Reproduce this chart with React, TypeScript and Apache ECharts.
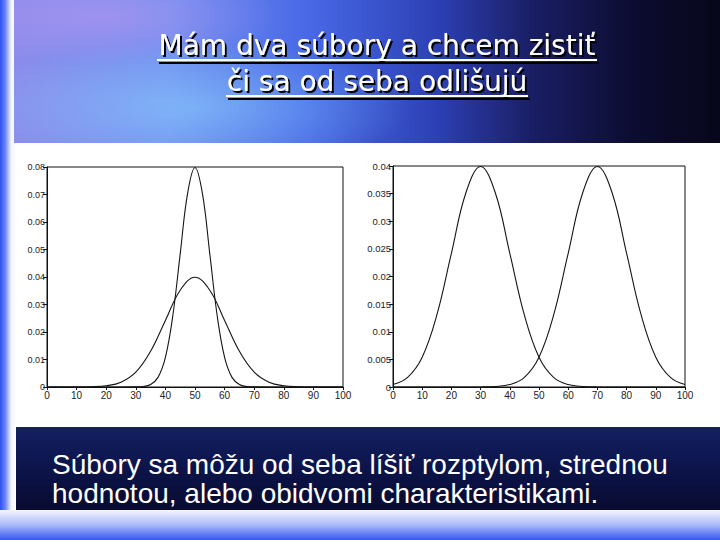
import React, { useEffect, useRef } from "react";
import * as echarts from "echarts";

const titleLines = ["Mám dva súbory a chcem zistiť", "či sa od seba odlišujú"];
const bottomLines = [
  "Súbory sa môžu od seba líšiť rozptylom, strednou",
  "hodnotou, alebo obidvomi charakteristikami.",
];

const xTickLabels = ["0", "10", "20", "30", "40", "50", "60", "70", "80", "90", "100"];
const leftYTickLabels = ["0", "0.01", "0.02", "0.03", "0.04", "0.05", "0.06", "0.07", "0.08"];
const rightYTickLabels = ["0", "0.005", "0.01", "0.015", "0.02", "0.025", "0.03", "0.035", "0.04"];

// x positions read every 5 units
const stepX = [0, 5, 10, 15, 20, 25, 30, 35, 40, 45, 50, 55, 60, 65, 70, 75, 80, 85, 90, 95, 100];
// left chart: wide curve centred at 50
const leftWideY = [0, 0, 0.00001, 0.00009, 0.00044, 0.00175, 0.0054, 0.013, 0.0242, 0.0352, 0.0399, 0.0352, 0.0242, 0.013, 0.0054, 0.00175, 0.00044, 0.00009, 0.00001, 0, 0];
// left chart: narrow curve centred at 50
const narrowX = [0, 10, 20, 25, 30, 32.5, 35, 37.5, 40, 42.5, 45, 47.5, 50, 52.5, 55, 57.5, 60, 62.5, 65, 67.5, 70, 75, 80, 90, 100];
const leftNarrowY = [0, 0, 0, 0, 0.00003, 0.00017, 0.00089, 0.0035, 0.0108, 0.0259, 0.0484, 0.0704, 0.0798, 0.0704, 0.0484, 0.0259, 0.0108, 0.0035, 0.00089, 0.00017, 0.00003, 0, 0, 0, 0];
// right chart: two curves centred at 30 and 70
const rightLowY = [0.00044, 0.00175, 0.0054, 0.013, 0.0242, 0.0352, 0.0399, 0.0352, 0.0242, 0.013, 0.0054, 0.00175, 0.00044, 0.00009, 0.00001, 0, 0, 0, 0, 0, 0];
const rightHighY = [0, 0, 0, 0, 0, 0, 0.00001, 0.00009, 0.00044, 0.00175, 0.0054, 0.013, 0.0242, 0.0352, 0.0399, 0.0352, 0.0242, 0.013, 0.0054, 0.00175, 0.00044];

const pairs = (xs: number[], ys: number[]) => xs.map((x, i) => [x, ys[i]]);

const axisFont = "Liberation Sans, Arial, sans-serif";

function xAxisFor(gridIndex: number) {
  return {
    type: "value",
    gridIndex,
    min: 0,
    max: 100,
    interval: 10,
    axisLine: { show: true, lineStyle: { color: "#111", width: 1 } },
    axisTick: { show: true, length: 3, lineStyle: { color: "#111" } },
    splitLine: { show: false },
    axisLabel: {
      color: "#222",
      fontSize: 10,
      fontFamily: axisFont,
      margin: 3,
      formatter: (_v: number, i: number) => xTickLabels[i],
    },
  };
}

function yAxisFor(gridIndex: number, max: number, interval: number, labels: string[], fontSize: number) {
  return {
    type: "value",
    gridIndex,
    min: 0,
    max,
    interval,
    axisLine: { show: true, lineStyle: { color: "#111", width: 1 } },
    axisTick: { show: true, length: 4, lineStyle: { color: "#111" } },
    splitLine: { show: false },
    axisLabel: {
      color: "#222",
      fontSize,
      fontFamily: axisFont,
      margin: 2,
      formatter: (_v: number, i: number) => labels[i],
    },
  };
}

function curve(xi: number, data: number[][]) {
  return {
    type: "line",
    xAxisIndex: xi,
    yAxisIndex: xi,
    data,
    smooth: 0.4,
    showSymbol: false,
    symbol: "none",
    lineStyle: { color: "#151515", width: 1.1 },
  };
}

export default function App() {
  const ref = useRef<HTMLDivElement>(null);
  useEffect(() => {
    if (!ref.current) return;
    const chart = echarts.init(ref.current, undefined, { renderer: "svg" });
    const titleStyle = (text: string, y: number) => ({
      type: "text",
      z: 100,
      style: {
        text,
        x: 377,
        y,
        fill: "#ffffff",
        font: '28px "DejaVu Sans", Tahoma, sans-serif',
        textAlign: "center",
        textVerticalAlign: "middle",
        textShadowColor: "#000000",
        textShadowBlur: 1,
        textShadowOffsetX: 2,
        textShadowOffsetY: 2,
      },
    });
    const underline = (x1: number, x2: number, y: number) => [
      { type: "line", z: 99, shape: { x1: x1 + 2, y1: y + 3, x2: x2 + 2, y2: y + 3 }, style: { stroke: "#000", lineWidth: 2 } },
      { type: "line", z: 100, shape: { x1, y1: y, x2, y2: y }, style: { stroke: "#fff", lineWidth: 2 } },
    ];
    chart.setOption({
      animation: false,
      backgroundColor: "#ffffff",
      graphic: [
        {
          type: "rect",
          z: 0,
          shape: { x: 0, y: 0, width: 16, height: 510 },
          style: {
            fill: new echarts.graphic.LinearGradient(0, 0, 1, 0, [
              { offset: 0, color: "#2d50f0" },
              { offset: 0.35, color: "#6f88f6" },
              { offset: 0.7, color: "#f4f6ff" },
              { offset: 1, color: "#ffffff" },
            ]),
          },
        },
        {
          type: "rect",
          z: 0,
          shape: { x: 14, y: 0, width: 706, height: 143 },
          style: {
            fill: new echarts.graphic.LinearGradient(0, 0, 1, 0, [
              { offset: 0, color: "#8a8ceb" },
              { offset: 0.22, color: "#7290f0" },
              { offset: 0.42, color: "#4868e6" },
              { offset: 0.6, color: "#2c40b4" },
              { offset: 0.73, color: "#1a1f66" },
              { offset: 0.88, color: "#0c0c30" },
              { offset: 1, color: "#07071a" },
            ]),
          },
        },
        {
          type: "rect",
          z: 1,
          shape: { x: 14, y: 0, width: 500, height: 143 },
          style: {
            fill: new echarts.graphic.RadialGradient(0.35, 0.75, 0.45, [
              { offset: 0, color: "rgba(140,215,255,0.5)" },
              { offset: 1, color: "rgba(140,215,255,0)" },
            ]),
          },
        },
        {
          type: "rect",
          z: 1,
          shape: { x: 14, y: 0, width: 300, height: 80 },
          style: {
            fill: new echarts.graphic.RadialGradient(0.3, 0.2, 0.6, [
              { offset: 0, color: "rgba(200,150,240,0.45)" },
              { offset: 1, color: "rgba(200,150,240,0)" },
            ]),
          },
        },
        {
          type: "rect",
          z: 0,
          shape: { x: 16, y: 427, width: 704, height: 83 },
          style: {
            fill: new echarts.graphic.LinearGradient(0, 0, 0, 1, [
              { offset: 0, color: "#132062" },
              { offset: 0.5, color: "#0c144a" },
              { offset: 1, color: "#080b30" },
            ]),
          },
        },
        {
          type: "rect",
          z: 0,
          shape: { x: 0, y: 510, width: 720, height: 30 },
          style: {
            fill: new echarts.graphic.LinearGradient(0, 0, 0, 1, [
              { offset: 0, color: "#f4f6ff" },
              { offset: 0.5, color: "#aabaf8" },
              { offset: 1, color: "#3556f0" },
            ]),
          },
        },
        titleStyle(titleLines[0], 45),
        titleStyle(titleLines[1], 81),
        ...underline(157, 597, 60),
        ...underline(226, 528, 96),
        {
          type: "text",
          z: 100,
          style: {
            text: bottomLines[0],
            x: 52,
            y: 464,
            fill: "#ffffff",
            font: '28px "Liberation Sans", Arial, sans-serif',
            textAlign: "left",
            textVerticalAlign: "middle",
          },
        },
        {
          type: "text",
          z: 100,
          style: {
            text: bottomLines[1],
            x: 52,
            y: 493,
            fill: "#ffffff",
            font: '28px "Liberation Sans", Arial, sans-serif',
            textAlign: "left",
            textVerticalAlign: "middle",
          },
        },
      ],
      grid: [
        { left: 47, top: 167, width: 296, height: 220, show: true, borderColor: "#111", borderWidth: 1, backgroundColor: "transparent" },
        { left: 393, top: 166, width: 292, height: 221, show: true, borderColor: "#111", borderWidth: 1, backgroundColor: "transparent" },
      ],
      xAxis: [xAxisFor(0), xAxisFor(1)],
      yAxis: [
        yAxisFor(0, 0.08, 0.01, leftYTickLabels, 9),
        yAxisFor(1, 0.04, 0.005, rightYTickLabels, 9.5),
      ],
      series: [
        curve(0, pairs(narrowX, leftNarrowY)),
        curve(0, pairs(stepX, leftWideY)),
        curve(1, pairs(stepX, rightLowY)),
        curve(1, pairs(stepX, rightHighY)),
      ],
    });
    return () => chart.dispose();
  }, []);
  return (
    <div
      ref={ref}
      style={{ position: "absolute", left: 0, top: 0, width: 720, height: 540 }}
    />
  );
}
